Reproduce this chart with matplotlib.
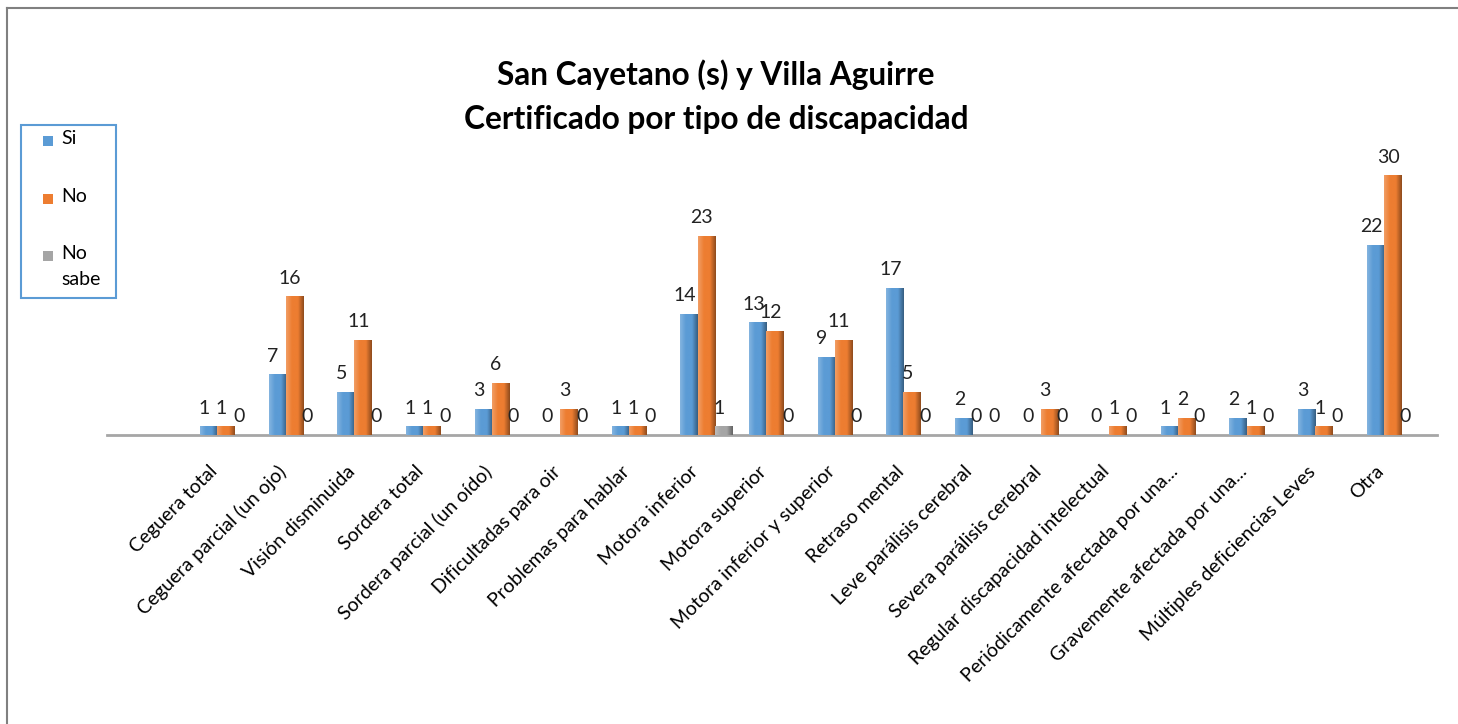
import matplotlib.pyplot as plt
import numpy as np
from matplotlib.lines import Line2D
from matplotlib.patches import Rectangle
from matplotlib.colors import LinearSegmentedColormap, to_rgb
import matplotlib.transforms as mtransforms

categories = [
    'Ceguera total', 'Ceguera parcial (un ojo)', 'Visión disminuida', 'Sordera total',
    'Sordera parcial (un oído)', 'Dificultadas para oir', 'Problemas para hablar',
    'Motora inferior', 'Motora superior', 'Motora inferior y superior', 'Retraso mental',
    'Leve parálisis cerebral', 'Severa parálisis cerebral', 'Regular discapacidad intelectual',
    'Periódicamente afectada por una...', 'Gravemente afectada por una...',
    'Múltiples deficiencias Leves', 'Otra',
]
si = [1, 7, 5, 1, 3, 0, 1, 14, 13, 9, 17, 2, 0, 0, 1, 2, 3, 22]
no = [1, 16, 11, 1, 6, 3, 1, 23, 12, 11, 5, 0, 3, 1, 2, 1, 1, 30]
no_sabe = [0, 0, 0, 0, 0, 0, 0, 1, 0, 0, 0, 0, 0, 0, 0, 0, 0, 0]
series_names = ['Si', 'No', 'No\nsabe']
colors = ['#5B9BD5', '#ED7D31', '#A5A5A5']

plt.rcParams['font.family'] = ['Lato', 'DejaVu Sans']

W, H = 1458, 724
fig = plt.figure(figsize=(W / 100, H / 100), dpi=100)
ax = fig.add_axes([107 / W, 1 - 435 / H, 1330 / W, 303 / H])


def shade(c):
    r = np.array(to_rgb(c))
    light = r + (1 - r) * 0.25
    dark = r * 0.6
    return LinearSegmentedColormap.from_list('s', [light, r, r, dark])


x = np.arange(len(categories))
width = 0.25
grad = np.linspace(0, 1, 64).reshape(1, -1)
for k, (vals, col) in enumerate(zip([si, no, no_sabe], colors)):
    pos = x + (k - 1) * width
    bars = ax.bar(pos, vals, width=width, color=col, edgecolor='none', zorder=2)
    cmap = shade(col)
    for b in bars:
        if b.get_height() > 0:
            x0 = b.get_x()
            im = ax.imshow(grad, extent=[x0, x0 + width, 0, b.get_height()],
                           aspect='auto', cmap=cmap, zorder=3, interpolation='bilinear')
            im.set_clip_path(b)
    for p, v in zip(pos, vals):
        ax.annotate(str(v), (p, v), xytext=(-3, 7), textcoords='offset points',
                    ha='center', va='bottom', fontsize=14, color='#222222')

ax.set_xlim(-1.73, 17.65)
ax.set_ylim(0, 35)
ax.set_xticks(x)
ax.set_xticklabels(categories, rotation=45, ha='right', rotation_mode='anchor', fontsize=14)
ax.tick_params(axis='x', length=0, pad=20)
shift = mtransforms.ScaledTranslation(-17 / 100, 0, fig.dpi_scale_trans)
for lab in ax.get_xticklabels():
    lab.set_transform(lab.get_transform() + shift)
ax.set_yticks([])
for s in ['top', 'right', 'left']:
    ax.spines[s].set_visible(False)
ax.spines['bottom'].set_color('#A6A6A6')
ax.spines['bottom'].set_linewidth(2)

fig.text(716 / W, 1 - 75 / H, 'San Cayetano (s) y Villa Aguirre',
         ha='center', va='center', fontsize=22.8, fontweight='bold')
fig.text(716 / W, 1 - 120 / H, 'Certificado por tipo de discapacidad',
         ha='center', va='center', fontsize=22.8, fontweight='bold')

# legend box drawn by hand so that the two-line entry keeps its marker on the first line
fig.add_artist(Rectangle((21 / W, 1 - 298 / H), 95 / W, 173 / H, transform=fig.transFigure,
                         facecolor='white', edgecolor='#5B9BD5', lw=1.5))
leg_y = [141, 199, 256]
for name, col, yy in zip(series_names, colors, leg_y):
    fig.add_artist(Rectangle((43 / W, 1 - (yy + 5) / H), 10 / W, 10 / H,
                             transform=fig.transFigure, facecolor=col, edgecolor='none'))
    fig.text(61 / W, 1 - (yy - 11) / H, name, ha='left', va='top', fontsize=14,
             linespacing=1.65)

# outer frame
fig.add_artist(Line2D([7 / W, 7 / W], [0, 1 - 8 / H], transform=fig.transFigure,
                      color='#808080', lw=1.5))
fig.add_artist(Line2D([7 / W, 1], [1 - 8 / H, 1 - 8 / H], transform=fig.transFigure,
                      color='#808080', lw=1.5))

fig.savefig('out.png', dpi=100)
